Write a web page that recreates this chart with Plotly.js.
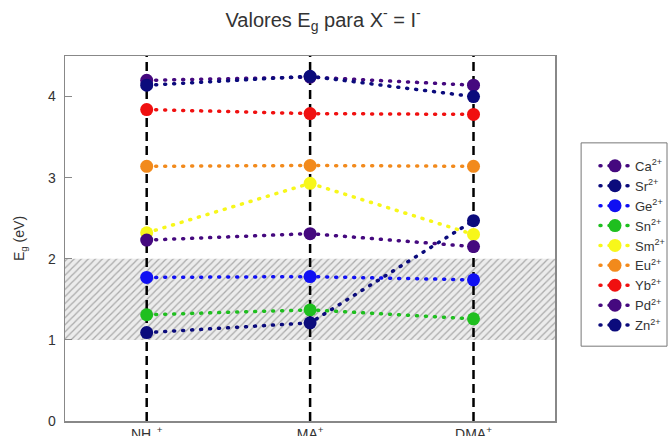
<!DOCTYPE html>
<html>
<head>
<meta charset="utf-8">
<script src="https://cdn.plot.ly/plotly-3.0.1.min.js"></script>
<style>html,body{margin:0;padding:0;background:#fff;}#chart{width:670px;height:436px;}</style>
</head>
<body>
<div id="chart"></div>
<script>
// Categories (A-site cations)
const categories = ["NH<sub>4</sub><sup>+</sup>", "MA<sup>+</sup>", "DMA<sup>+</sup>"];
const catPos = [0, 1, 2];

// Series names
const seriesNames = ["Ca<sup>2+</sup>", "Sr<sup>2+</sup>", "Ge<sup>2+</sup>", "Sn<sup>2+</sup>", "Sm<sup>2+</sup>", "Eu<sup>2+</sup>", "Yb<sup>2+</sup>", "Pd<sup>2+</sup>", "Zn<sup>2+</sup>"];

// Band gap values (eV)
const Ca = [4.20, 4.24, 4.14];
const Sr = [4.14, 4.25, 4.00];
const Ge = [1.77, 1.78, 1.74];
const Sn = [1.31, 1.37, 1.26];
const Sm = [2.32, 2.93, 2.30];
const Eu = [3.14, 3.15, 3.14];
const Yb = [3.84, 3.79, 3.78];
const Pd = [2.23, 2.31, 2.15];
const Zn = [1.09, 1.21, 2.47];
const seriesValues = [Ca, Sr, Ge, Sn, Sm, Eu, Yb, Pd, Zn];

const colors = ["#45097f", "#0b0b7c", "#1010f2", "#1fbf1f", "#f7f71a", "#f28a1c", "#f01010", "#45097f", "#0b0b7c"];

// Highlighted band-gap window
const bandLow = 1, bandHigh = 2;
const xRange = [-0.5, 2.5];
const yRange = [0, 4.5];
const yTicks = [0, 1, 2, 3, 4];

const traces = [];

// hatched region
traces.push({
  x: [xRange[0], xRange[1], xRange[1], xRange[0], xRange[0]],
  y: [bandLow, bandLow, bandHigh, bandHigh, bandLow],
  mode: "lines", fill: "toself",
  fillcolor: "#ececec",
  fillpattern: {shape: "/", bgcolor: "#ececec", fgcolor: "#ababab", size: 5, solidity: 0.25},
  line: {width: 0}, showlegend: false, hoverinfo: "skip"
});

// vertical dashed lines
catPos.forEach(p => {
  traces.push({
    x: [p, p], y: yRange, mode: "lines",
    line: {color: "#000", width: 2.5, dash: "9px,5px"},
    showlegend: false, hoverinfo: "skip"
  });
});

seriesNames.forEach((name, i) => {
  traces.push({
    x: catPos, y: seriesValues[i], name: name,
    mode: "lines+markers",
    line: {color: colors[i], width: 3.5, dash: "1px,8px"},
    marker: {color: colors[i], size: 13}
  });
});

const layout = {
  width: 670, height: 436,
  margin: {l: 65, r: 0, t: 56, b: 15},
  paper_bgcolor: "#fff", plot_bgcolor: "#fff",
  font: {family: "Liberation Sans, Arial, sans-serif", color: "#333", size: 12},
  title: {text: "Valores E<sub>g</sub> para X<sup>-</sup> = I<sup>-</sup>", font: {size: 20, color: "#333"},
          xref: "paper", x: 0.4273, xanchor: "center", yref: "container", y: 0.955, yanchor: "middle"},
  xaxis: {domain: [0, 0.8116], range: xRange, tickvals: catPos, ticktext: categories, ticks: "", showgrid: false, zeroline: false,
          showline: true, mirror: true, linecolor: "#888", linewidth: 1.5, tickfont: {size: 14, color: "#333"}},
  yaxis: {range: yRange, tickvals: yTicks, ticks: "inside", ticklen: 7, tickcolor: "#888",
          showgrid: false, zeroline: false, showline: true, mirror: true, linecolor: "#888", linewidth: 1.5,
          ticklabelstandoff: 5,
          title: {text: "E<sub>g</sub> (eV)", font: {size: 14, color: "#333"}, standoff: 20},
          tickfont: {size: 14, color: "#333"}},
  legend: {x: 0.877, xanchor: "left", y: 0.74, yanchor: "top", borderwidth: 0,
           bgcolor: "rgba(0,0,0,0)", font: {size: 13, color: "#333"}, tracegroupgap: 0},
  shapes: [{type: "rect", xref: "paper", yref: "paper", x0: 0.8545, x1: 0.9967, y0: 0.205, y1: 0.762,
            line: {color: "#777", width: 1}, fillcolor: "rgba(0,0,0,0)"}],
  showlegend: true
};

Plotly.newPlot("chart", traces, layout, {displayModeBar: false, staticPlot: true}).then(gd => {
  gd.querySelectorAll("path.js-line").forEach(p => {
    const da = p.style.strokeDasharray || p.getAttribute("stroke-dasharray") || "";
    if (da.indexOf("1px, 8px") === 0 || da.indexOf("1px,8px") === 0 || da.indexOf("1, 8") === 0) {
      p.style.strokeLinecap = "round";
    }
  });
});
</script>
</body>
</html>
